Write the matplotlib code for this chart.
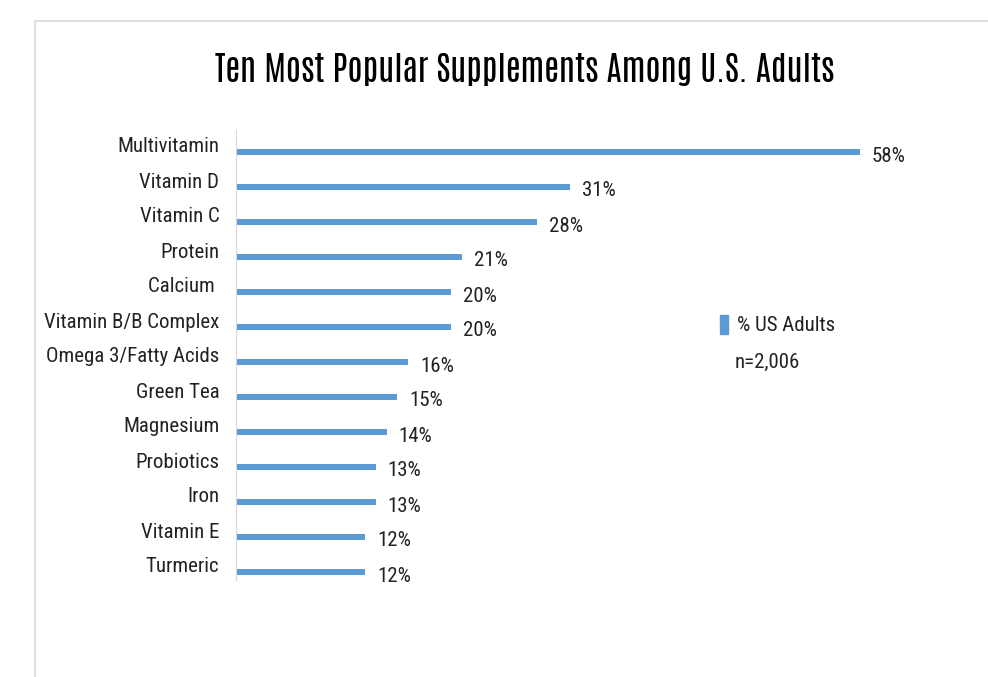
import matplotlib
matplotlib.use('Agg')
import matplotlib.pyplot as plt
from matplotlib.patches import Rectangle, Patch
from matplotlib import font_manager
import numpy as np

# Data
supplements = ['Multivitamin', 'Vitamin D', 'Vitamin C', 'Protein', 'Calcium ',
               'Vitamin B/B Complex', 'Omega 3/Fatty Acids', 'Green Tea', 'Magnesium',
               'Probiotics', 'Iron', 'Vitamin E', 'Turmeric']
pct_adults = [58, 31, 28, 21, 20, 20, 16, 15, 14, 13, 13, 12, 12]
series_name = '% US Adults'
sample_note = 'n=2,006'
title = 'Ten Most Popular Supplements Among U.S. Adults'

names = {f.name for f in font_manager.fontManager.ttflist}


def pick(cands):
    for c in cands:
        if c in names:
            return c
    return 'DejaVu Sans'


label_font = pick(['Roboto Condensed', 'IBM Plex Sans Condensed', 'Barlow Semi Condensed', 'Open Sans'])
title_font = pick(['Antonio', 'Oswald', 'Barlow Condensed', 'Roboto Condensed', 'IBM Plex Sans Condensed'])
plt.rcParams['font.family'] = [label_font, 'DejaVu Sans']

W, H = 988, 677
fig = plt.figure(figsize=(W / 100, H / 100), dpi=100)

# light gray frame of the chart area
fig.patches.append(Rectangle((35 / W, -0.1), 1.2, 0.1 + 1 - 21 / H, transform=fig.transFigure,
                             fill=False, edgecolor='#d9d9d9', linewidth=1.2))

# axes placed in pixels
left, right, top, bottom = 236, 970, 130, 580
ax = fig.add_axes([left / W, 1 - bottom / H, (right - left) / W, (bottom - top) / H])

pos = np.arange(len(supplements))
ax.barh(pos, pct_adults, height=0.18, color='#5b9bd5', label=series_name)

ax.set_xlim(0, (right - left) / ((860 - 236) / 58))
ax.set_ylim((bottom - 152) / 35, -(152 - top) / 35)

ax.set_yticks(pos - 0.2)
ax.set_yticklabels(supplements, fontsize=15, color='#222222')
ax.tick_params(axis='y', length=0, pad=12)
ax.set_xticks([])

for p, v in zip(pos, pct_adults):
    ax.annotate(f'{v}%', (v, p), xytext=(12, -4), textcoords='offset pixels',
                va='center', ha='left', fontsize=15, color='#222222')

for s in ['top', 'right', 'bottom']:
    ax.spines[s].set_visible(False)
ax.spines['left'].set_color('#d9d9d9')

fig.text(525 / W, 1 - 70 / H, title, ha='center', va='center', fontsize=24.5,
         fontweight='bold', color='black', family=[title_font, 'DejaVu Sans'])

leg = fig.legend(handles=[Patch(color='#5b9bd5', label=series_name)], loc='upper left',
                 bbox_to_anchor=(720 / W, 1 - 315 / H), frameon=False, fontsize=15,
                 handlelength=0.4, handleheight=1.0, handletextpad=0.4, borderpad=0,
                 borderaxespad=0)
for t in leg.get_texts():
    t.set_color('#222222')
fig.text(735 / W, 1 - 362 / H, sample_note, ha='left', va='center', fontsize=15,
         color='#222222')

fig.savefig('out.png', dpi=100)
